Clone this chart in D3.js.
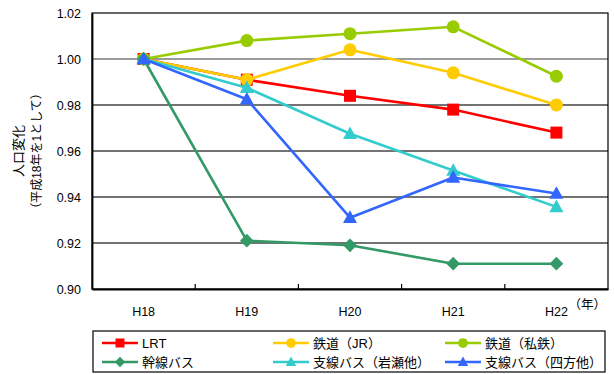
<!DOCTYPE html>
<html><head><meta charset="utf-8">
<script src="https://cdn.jsdelivr.net/npm/d3@7"></script>
<style>
html,body{margin:0;padding:0;background:#fff;}
text{font-family:"Liberation Sans","Noto Sans CJK JP",sans-serif;fill:#000;}
</style></head>
<body>
<svg id="chart" width="614" height="374"></svg>
<script>
// 年度（平成）
const years = ["H18", "H19", "H20", "H21", "H22"];
// 人口変化（平成18年を1として）
const lrt       = [1.000, 0.991, 0.984, 0.978, 0.968];
const jr        = [1.000, 0.991, 1.004, 0.994, 0.980];
const shitetsu  = [1.000, 1.008, 1.011, 1.014, 0.9925];
const kansen    = [1.000, 0.921, 0.919, 0.911, 0.911];
const iwase     = [1.000, 0.9875, 0.9675, 0.9515, 0.9357];
const shiho     = [1.000, 0.9825, 0.931, 0.9485, 0.9415];
const yTicks    = [0.90, 0.92, 0.94, 0.96, 0.98, 1.00, 1.02];

const series = [
  {name: "LRT", values: lrt, color: "#ff0000", shape: "square"},
  {name: "鉄道（JR）", values: jr, color: "#ffcc00", shape: "circle"},
  {name: "鉄道（私鉄）", values: shitetsu, color: "#99cc00", shape: "circle"},
  {name: "幹線バス", values: kansen, color: "#339966", shape: "diamond"},
  {name: "支線バス（岩瀬他）", values: iwase, color: "#33cccc", shape: "triangle"},
  {name: "支線バス（四方他）", values: shiho, color: "#3366ff", shape: "triangle"}
];

const svg = d3.select("#chart");
const plot = {left: 92, right: 608, top: 13, bottom: 289};

const x = d3.scaleBand().domain(years).range([plot.left, plot.right]);
const y = d3.scaleLinear().domain([0.90, 1.02]).range([plot.bottom, plot.top]);

// grid lines
svg.append("g").selectAll("line")
  .data(yTicks.filter(d => d > 0.90 && d < 1.02))
  .join("line")
  .attr("x1", plot.left).attr("x2", plot.right)
  .attr("y1", d => y(d)).attr("y2", d => y(d))
  .attr("stroke", d => d === 1.00 ? "#7a7a7a" : "#444")
  .attr("stroke-width", 1.3);

// plot frame
svg.append("rect")
  .attr("x", plot.left).attr("y", plot.top)
  .attr("width", plot.right - plot.left).attr("height", plot.bottom - plot.top)
  .attr("fill", "none").attr("stroke", "#000").attr("stroke-width", 1.2);

// y axis
const yAxis = svg.append("g").attr("transform", `translate(${plot.left},0)`)
  .call(d3.axisLeft(y).tickValues(yTicks).tickFormat(d3.format(".2f")).tickSize(0).tickPadding(11));
yAxis.select(".domain").attr("stroke", "#000").attr("stroke-width", 1.8);
yAxis.selectAll("text").attr("font-size", 12.5);

// x axis
const xAxis = svg.append("g").attr("transform", `translate(0,${plot.bottom})`)
  .call(d3.axisBottom(x).tickSize(0).tickPadding(18));
xAxis.select(".domain").attr("stroke", "#000").attr("stroke-width", 1.8);
xAxis.selectAll("text").attr("font-size", 12.5);
// category separators
svg.append("g").selectAll("line")
  .data(years.slice(1))
  .join("line")
  .attr("x1", d => x(d)).attr("x2", d => x(d))
  .attr("y1", plot.bottom - 5).attr("y2", plot.bottom)
  .attr("stroke", "#000").attr("stroke-width", 1.2);

svg.append("text").attr("x", 606).attr("y", 309).attr("text-anchor", "end").attr("font-size", 12.5).text("（年）");

// y axis title
const yt = svg.append("g").attr("transform", "translate(0,151) rotate(-90)");
yt.append("text").attr("x", 0).attr("y", 23).attr("text-anchor", "middle").attr("font-size", 13).text("人口変化");
yt.append("text").attr("x", 0).attr("y", 41).attr("text-anchor", "middle").attr("font-size", 12).text("（平成18年を1として）");

// marker drawing
function marker(sel, shape, color, scale) {
  const s = scale || 1;
  if (shape === "square") {
    sel.append("rect").attr("x", -6 * s).attr("y", -6 * s).attr("width", 12 * s).attr("height", 12 * s).attr("fill", color);
  } else if (shape === "circle") {
    sel.append("circle").attr("r", 6.5 * s).attr("fill", color);
  } else if (shape === "diamond") {
    sel.append("path").attr("d", d3.symbol(d3.symbolDiamond2, 120 * s * s)()).attr("fill", color);
  } else {
    const h = 7 * s;
    sel.append("path").attr("d", `M0,${-h * 1.05}L${h},${h * 0.75}L${-h},${h * 0.75}Z`).attr("fill", color);
  }
}

const line = d3.line().x((d, i) => x(years[i]) + x.bandwidth() / 2).y(d => y(d));

series.forEach(s => {
  const g = svg.append("g");
  g.append("path").datum(s.values).attr("d", line)
    .attr("fill", "none").attr("stroke", s.color).attr("stroke-width", 2.6).attr("stroke-linejoin", "round");
  s.values.forEach((v, i) => {
    const m = g.append("g").attr("transform", `translate(${x(years[i]) + x.bandwidth() / 2},${y(v)})`);
    marker(m, s.shape, s.color);
  });
});

// legend
svg.append("rect").attr("x", 93).attr("y", 331).attr("width", 512).attr("height", 41)
  .attr("fill", "#fff").attr("stroke", "#000").attr("stroke-width", 1.2);
const colX = [102, 273, 445];
const rowY = [343, 362];
series.forEach((s, i) => {
  const lx = colX[i % 3], ly = rowY[Math.floor(i / 3)];
  const g = svg.append("g");
  g.append("line").attr("x1", lx).attr("x2", lx + 36).attr("y1", ly).attr("y2", ly)
    .attr("stroke", s.color).attr("stroke-width", 2.6);
  marker(g.append("g").attr("transform", `translate(${lx + 18},${ly})`), s.shape, s.color, 0.75);
  g.append("text").attr("x", lx + 40).attr("y", ly).attr("dy", "0.36em").attr("font-size", 13).text(s.name);
});
</script>
</body></html>
